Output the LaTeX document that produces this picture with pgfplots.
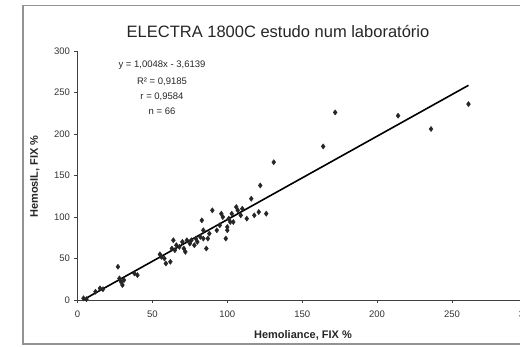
\documentclass[border=0pt]{standalone}
\usepackage{pgfplots}
\pgfplotsset{compat=1.18}
\usepackage{fontspec}
\setmainfont{Liberation Sans}
\begin{document}
\begin{tikzpicture}
\begin{axis}[
  at={(77.5pt,47pt)}, anchor=south west,
  scale only axis, width=449.4pt, height=249pt,
  xmin=0, xmax=300, ymin=0, ymax=300,
  xtick={0,50,...,300}, ytick={0,50,...,300},
  axis x line=bottom, axis y line=left,
  axis line style={-, black!75, line width=0.9pt},
  tick align=outside, major tick length=3pt,
  tick style={black!75, line width=0.8pt},
  /pgf/number format/assume math mode=true,
  ticklabel style={font=\fontsize{9.5}{10}\selectfont, text=black!80},
  xticklabel style={yshift=-4pt},
  yticklabel style={xshift=-1pt},
  clip=false,
]
\addplot[only marks, mark=diamond*, mark size=2.6pt, black!85] coordinates {
(4,2) (6,1) (12,10) (15,14) (17,13) (27,40) (28,26) (29,22) (30,18) (31,24)
(38,32) (40,30) (55,55) (56,52) (58,50) (59,44) (62,46) (63,62) (64,72) (65,60)
(66,66) (68,64) (70,70) (71,62) (72,58) (73,72) (75,68) (76,72) (78,66) (79,74)
(80,70) (82,76) (83,96) (84,74) (84,84) (86,62) (87,74) (88,80) (90,108) (93,84)
(95,90) (96,104) (97,100) (99,74) (100,84) (100,88) (101,98) (102,94) (103,104) (104,94)
(106,112) (107,108) (109,102) (110,110) (113,98) (116,122) (118,102) (121,106) (122,138) (126,104)
(131,166) (164,185) (172,226) (214,222) (236,206) (261,236)
};
\addplot[black, line width=1.6pt] coordinates {(4,0.405) (261,258.64)};
\end{axis}
\draw[gray!85, line width=1.6pt] (23pt,3pt) rectangle (560pt,341.5pt);
\node[font=\fontsize{16.5}{18}\selectfont, text=black!85] at (278pt,315pt) {ELECTRA 1800C estudo num laboratório};
\node[font=\bfseries\fontsize{11}{12}\selectfont, text=black!85] at (303pt,12pt) {Hemoliance, FIX \%};
\node[font=\bfseries\fontsize{11}{12}\selectfont, text=black!85, rotate=90] at (35pt,170.5pt) {HemosIL, FIX \%};
\begin{scope}[every node/.style={font=\fontsize{9.5}{10}\selectfont, text=black!85}]
\node at (162pt,282pt) {y = 1,0048x - 3,6139};
\node at (162pt,265.5pt) {R² = 0,9185};
\node at (162pt,250.5pt) {r = 0,9584};
\node at (162pt,236pt) {n = 66};
\end{scope}
\pgfresetboundingbox
\useasboundingbox (0pt,0pt) rectangle (520pt,347pt);
\end{tikzpicture}
\end{document}
